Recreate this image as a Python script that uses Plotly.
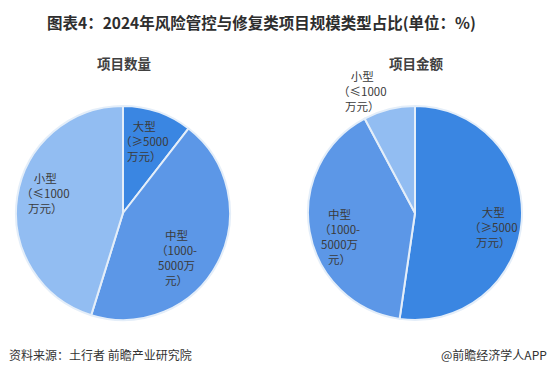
import plotly.graph_objects as go

# ---- data ----
categories = ["大型", "中型", "小型"]
label_texts = ["大型<br>（≥5000<br>万元）", "中型<br>（1000-<br>5000万<br>元）", "小型<br>（≤1000<br>万元）"]
count_share = [10.5, 44.3, 45.2]     # 项目数量 (%)
amount_share = [52.3, 39.9, 7.8]     # 项目金额 (%)
subtitles = ["项目数量", "项目金额"]
title_text = "图表4：2024年风险管控与修复类项目规模类型占比(单位：%)"
source_text = "资料来源：土行者 前瞻产业研究院"
brand_text = "@前瞻经济学人APP"

W, H = 554, 382
colors = ["#3A86E2", "#5C97E7", "#92BDF2"]
FONT = "Noto Sans CJK SC"

def px(x, y):
    return x / W, 1 - y / H

fig = go.Figure()

def add_pie(values, cx, cy, r):
    x0, y1 = px(cx - r, cy - r)
    x1, y0 = px(cx + r, cy + r)
    fig.add_trace(go.Pie(
        labels=categories, values=values, sort=False, direction="clockwise",
        rotation=0, textinfo="none", hoverinfo="label+value",
        marker=dict(colors=colors, line=dict(color="#E4EEF9", width=2)),
        domain=dict(x=[x0, x1], y=[y0, y1]), showlegend=False,
    ))

add_pie(count_share, 123, 213, 107)
add_pie(amount_share, 415, 213, 107)

annotations = []
def ann(text, x, y, size, color="#404040", bold=False, xanchor="center", yanchor="middle"):
    ax, ay = px(x, y)
    t = f"<b>{text}</b>" if bold else text
    annotations.append(dict(text=t, x=ax, y=ay, xref="paper", yref="paper",
                            showarrow=False, xanchor=xanchor, yanchor=yanchor,
                            font=dict(family=FONT, size=size, color=color)))

ann(title_text, 261, 22, 15.5, color="#2E2E2E", bold=True)
ann(subtitles[0], 124, 63, 13.5, color="#404040", bold=True)
ann(subtitles[1], 416, 63, 13.5, color="#404040", bold=True)

# slice labels (大型, 中型, 小型)
left_pos = [(144, 141), (176, 257), (45, 193)]
right_pos = [(493, 227), (339, 236), (362, 91)]
for i, (x, y) in enumerate(left_pos):
    ann(label_texts[i], x, y, 11.5, color="#3A3A3A")
for i, (x, y) in enumerate(right_pos):
    ann(label_texts[i], x, y, 11.5, color="#3A3A3A")

ann(source_text, 7, 354, 12, color="#333333", xanchor="left")
ann(brand_text, 549, 354, 12, color="#333333", xanchor="right")

fig.update_layout(
    width=W, height=H, margin=dict(l=0, r=0, t=0, b=0),
    paper_bgcolor="white", plot_bgcolor="white",
    annotations=annotations, font=dict(family=FONT),
)
fig.write_html("out.html", config={"displayModeBar": False})

# remove default browser body margin so the figure fills the window
with open("out.html", "r", encoding="utf-8") as f:
    html = f.read()
html = html.replace("<body>", '<body style="margin:0;padding:0;overflow:hidden">', 1)
with open("out.html", "w", encoding="utf-8") as f:
    f.write(html)
